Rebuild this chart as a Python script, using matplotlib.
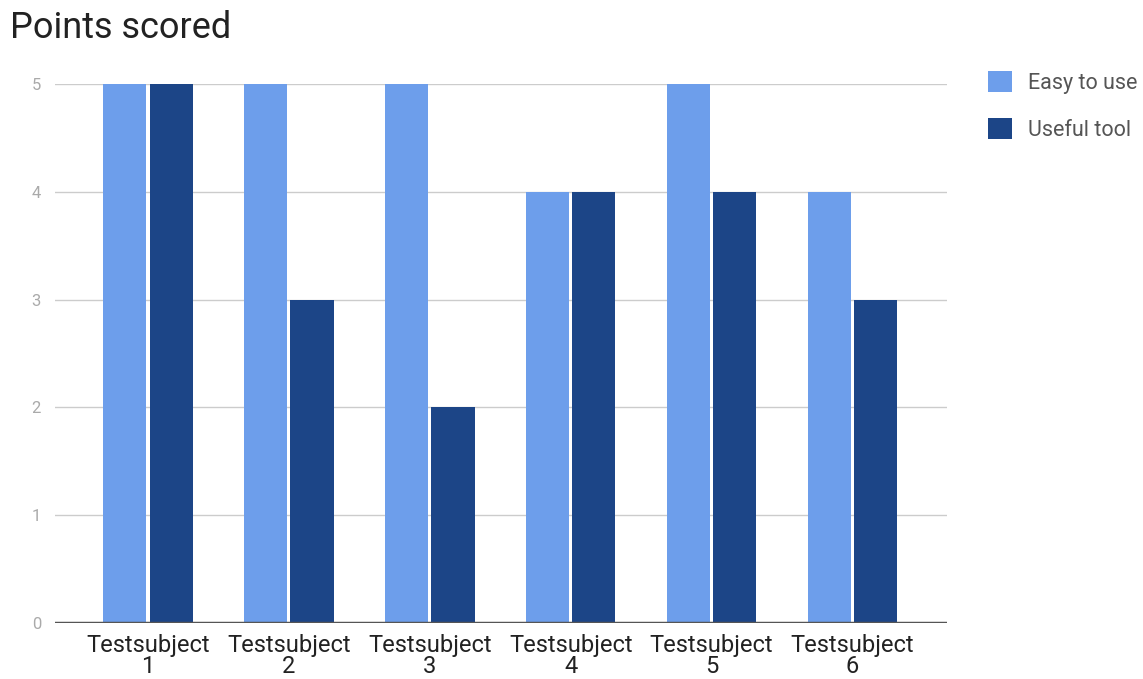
import numpy as np
import matplotlib.pyplot as plt
from matplotlib.patches import Patch

plt.rcParams['font.family'] = ['Roboto', 'DejaVu Sans']

subjects = ["Testsubject\n1", "Testsubject\n2", "Testsubject\n3",
            "Testsubject\n4", "Testsubject\n5", "Testsubject\n6"]
easy_to_use = [5, 5, 5, 4, 5, 4]
useful_tool = [5, 3, 2, 4, 4, 3]

light_blue = "#6d9eeb"
dark_blue = "#1c4587"

fig = plt.figure(figsize=(11.43, 6.79), dpi=100)
ax = fig.add_axes([55 / 1143, 1 - 623 / 679, 892 / 1143, (623 - 84) / 679])

x = np.arange(len(subjects))
w = 0.306
gap = 0.011
ax.bar(x - w / 2 - gap, easy_to_use, width=w, color=light_blue, zorder=3)
ax.bar(x + w / 2 + gap, useful_tool, width=w, color=dark_blue, zorder=3)

ax.set_xlim(-0.66, 5.67)
ax.set_ylim(0, 5)
ax.set_yticks(range(6))
ax.grid(axis='y', color='#cccccc', linewidth=1, zorder=0)
ax.axhline(0, color='#555555', linewidth=2.5, zorder=4)

for s in ax.spines.values():
    s.set_visible(False)

ax.tick_params(axis='y', length=0, pad=10, labelsize=12, labelcolor='#aaaaaa')
ax.tick_params(axis='x', length=0, pad=8, labelsize=17, labelcolor='#222222')
ax.set_xticks(x)
ax.set_xticklabels(subjects, linespacing=0.9)

fig.text(10 / 1143, 1 - 28 / 679, "Points scored", fontsize=26, color='#222222',
         va='center', ha='left')

handles = [Patch(facecolor=light_blue, label="Easy to use"),
           Patch(facecolor=dark_blue, label="Useful tool")]
fig.legend(handles=handles, loc='upper left', bbox_to_anchor=(988 / 1143, 1 - 71 / 679),
           frameon=False, fontsize=15.5, labelcolor='#555555', handlelength=1.1,
           handleheight=1.1, handletextpad=0.78, labelspacing=1.13, borderpad=0,
           borderaxespad=0)

fig.savefig("out.png", dpi=100)
